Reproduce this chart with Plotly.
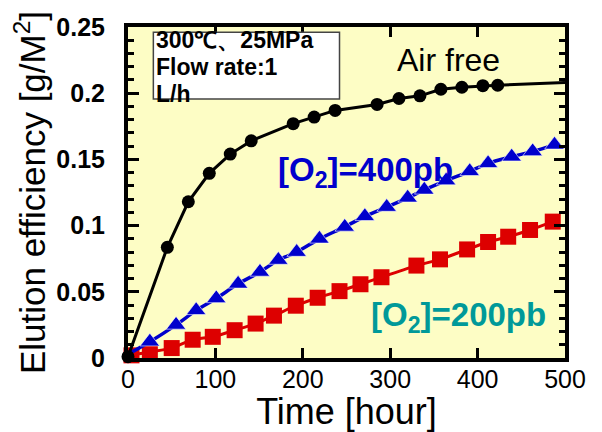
import plotly.graph_objects as go

# ---------------- data ----------------
air_x = [0, 45, 69, 93, 117, 141, 189, 213, 237, 285, 310, 334, 358, 382, 406, 423]
air_y = [0.001, 0.0836, 0.118, 0.1395, 0.154, 0.164, 0.177, 0.182, 0.187, 0.1915,
         0.196, 0.198, 0.203, 0.2045, 0.2057, 0.206]
air_end_x = [500]
air_end_y = [0.208]

o400_x = [-7, -1, 25, 55, 78, 101, 126, 151, 172, 193, 219, 248, 271, 296, 320,
          339, 364, 391, 412, 439, 463, 488]
o400_y = [0.003, 0.003, 0.0123, 0.025, 0.036, 0.045, 0.056, 0.065, 0.074, 0.080,
          0.090, 0.099, 0.107, 0.114, 0.121, 0.127, 0.134, 0.141, 0.147, 0.152,
          0.156, 0.161]

o200_x = [-1, 4, 25, 50, 74, 97, 122, 146, 167, 192, 217, 242, 266, 290, 330,
          357, 388, 412, 435, 460, 486]
o200_y = [-0.001, 0.002, 0.0045, 0.0075, 0.0138, 0.016, 0.021, 0.026, 0.032,
          0.0395, 0.0455, 0.0505, 0.0557, 0.061, 0.0698, 0.0745, 0.082, 0.0876,
          0.0916, 0.0967, 0.103]

x_ticks = [0, 100, 200, 300, 400, 500]
y_ticks = [0, 0.05, 0.1, 0.15, 0.2, 0.25]
y_tick_labels = ["0", "0.05", "0.1", "0.15", "0.2", "0.25"]

FONT = "Arial, Liberation Sans, sans-serif"
BLACK = "#000000"
BLUE = "#0000CC"
RED = "#DD0000"
TEAL = "#009999"
BG = "#FDFDC5"

fig = go.Figure()

# Red series ([O2]=200pb)
fig.add_trace(go.Scatter(
    x=o200_x, y=o200_y, mode="lines+markers",
    line=dict(color=RED, width=3, shape="spline", smoothing=0.8),
    marker=dict(symbol="square", size=16, color=RED),
    cliponaxis=False, showlegend=False))

# Blue series ([O2]=400pb)
fig.add_trace(go.Scatter(
    x=o400_x, y=o400_y, mode="lines+markers",
    line=dict(color=BLUE, width=3.5, shape="spline", smoothing=0.8),
    marker=dict(symbol="triangle-up", size=17, color=BLUE,
                line=dict(color="white", width=0.6)),
    cliponaxis=False, showlegend=False))

# Air free line (extends to axis end) and markers
fig.add_trace(go.Scatter(
    x=air_x + air_end_x, y=air_y + air_end_y, mode="lines",
    line=dict(color=BLACK, width=3), cliponaxis=False, showlegend=False))
fig.add_trace(go.Scatter(
    x=air_x, y=air_y, mode="markers",
    marker=dict(symbol="circle", size=13, color=BLACK),
    cliponaxis=False, showlegend=False))

# Condition box
fig.add_shape(type="rect", xref="x", yref="y", x0=29, x1=242, y0=0.1956, y1=0.246,
              fillcolor="white", line=dict(color="#444444", width=1.5), layer="above")
for txt, yy in [("300℃、25MPa", 0.2405), ("Flow rate:1", 0.2195), ("L/h", 0.1995)]:
    fig.add_annotation(x=30, y=yy, xref="x", yref="y", text=f"<b>{txt}</b>",
                       showarrow=False, xanchor="left", yanchor="middle",
                       font=dict(family=FONT, size=23, color=BLACK))

fig.add_annotation(x=367, y=0.225, xref="x", yref="y", text="Air free",
                   showarrow=False, font=dict(family=FONT, size=32, color=BLACK))
fig.add_annotation(x=272, y=0.1405, xref="x", yref="y",
                   text="<b>[O<sub>2</sub>]=400pb</b>",
                   showarrow=False, font=dict(family=FONT, size=33, color=BLUE))
fig.add_annotation(x=378, y=0.031, xref="x", yref="y",
                   text="<b>[O<sub>2</sub>]=200pb</b>",
                   showarrow=False, font=dict(family=FONT, size=33, color=TEAL))

# page body has an 8px default margin, so the figure is sized to fit inside it
fig.update_layout(
    width=594, height=424,
    margin=dict(l=120, r=37, t=19, b=74),
    paper_bgcolor="white", plot_bgcolor=BG,
    font=dict(family=FONT, color=BLACK),
    xaxis=dict(
        range=[0, 500], tickvals=x_ticks, ticks="inside", ticklen=10, tickwidth=3,
        tickcolor=BLACK, showline=True, linecolor=BLACK, linewidth=4, mirror="ticks",
        showgrid=False, zeroline=False, ticklabelstandoff=-4, automargin=False,
        tickfont=dict(family=FONT, size=25, color=BLACK),
        title=dict(text="Time [hour]", font=dict(family=FONT, size=36, color=BLACK),
                   standoff=6),
    ),
    yaxis=dict(
        range=[0, 0.25], tickvals=y_ticks, ticktext=y_tick_labels, ticks="inside",
        ticklen=11, tickwidth=3, tickcolor=BLACK, showline=True, linecolor=BLACK,
        linewidth=4, mirror="ticks", showgrid=False, zeroline=False,
        ticklabelstandoff=14, automargin=False,
        tickfont=dict(family=FONT, size=25, color=BLACK, weight="bold"),
        minor=dict(dtick=0.01, tick0=0, ticks="inside", ticklen=6, tickwidth=3,
                   tickcolor=BLACK, showgrid=False),
        title=dict(text="Elution efficiency [g/M<sup>2</sup>]",
                   font=dict(family=FONT, size=35, color=BLACK), standoff=4),
    ),
)

fig.write_html("out.html")
